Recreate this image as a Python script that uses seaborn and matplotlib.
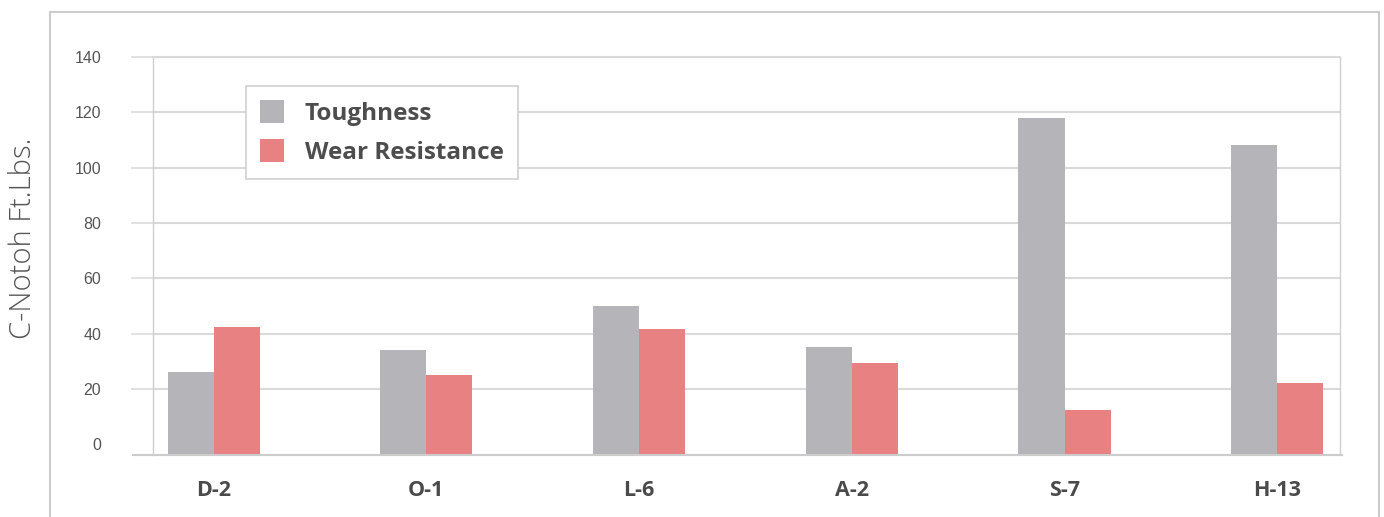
import matplotlib
matplotlib.use("Agg")
import matplotlib.pyplot as plt
import seaborn as sns
import pandas as pd
from matplotlib.lines import Line2D

# ---- data ----
steels = ["D-2", "O-1", "L-6", "A-2", "S-7", "H-13"]
toughness = [26, 34, 50, 35, 118, 108]
wear_resistance = [42.5, 25, 41.5, 29.5, 12.5, 22]
series_names = ["Toughness", "Wear Resistance"]
y_ticks = [0, 20, 40, 60, 80, 100, 120, 140]
y_label = "C-Notoh Ft.Lbs."

df = pd.DataFrame({
    "Steel": steels * 2,
    "Series": [series_names[0]] * len(steels) + [series_names[1]] * len(steels),
    "Value": toughness + wear_resistance,
})

sns.set_theme(style="white")
plt.rcParams["font.family"] = ["Open Sans", "DejaVu Sans"]

W, H = 1384, 517
fig = plt.figure(figsize=(W / 100, H / 100), dpi=100)
ax = fig.add_axes([153 / W, 62 / H, 1187 / W, 398 / H])

sns.barplot(
    data=df, x="Steel", y="Value", hue="Series",
    palette=["#b5b5b9", "#e88182"], width=0.433, saturation=1,
    linewidth=0, errorbar=None, ax=ax,
)

ymin = -3.94
ax.set_ylim(ymin, 140)
ax.set_xlim(-0.285, 5.295)

# bars reach down to the drawn baseline
for p in ax.patches:
    top = p.get_y() + p.get_height()
    p.set_y(ymin)
    p.set_height(top - ymin)

# y axis: gridlines + ticks that extend left of the axis
ax.set_yticks(y_ticks, labels=[str(t) for t in y_ticks],
              fontfamily="Liberation Sans", fontsize=11.5, color="#555555")
ax.grid(axis="y", color="#d9d9d9", linewidth=1.5)
ax.grid(axis="x", visible=False)
ax.set_axisbelow(True)
ax.tick_params(axis="y", left=True, length=15.8, width=1.1, color="#d9d9d9",
               pad=21.6, direction="out")
t0 = ax.yaxis.get_major_ticks()[0]
t0.gridline.set_visible(False)
t0.tick1line.set_visible(False)

# x axis labels
ax.tick_params(axis="x", length=0, pad=18)
ax.set_xticks(range(len(steels)), labels=steels, fontsize=15.5,
              fontweight="bold", color="#4a4a4a")
ax.set_xlabel("")

ax.set_ylabel(y_label, fontsize=21, fontweight="light", color="#555555",
              va="center", ha="center")
ax.yaxis.set_label_coords(-0.1095, 0.5435)

for side in ["left", "right"]:
    ax.spines[side].set_color("#cfcfcf")
    ax.spines[side].set_linewidth(1.0)
ax.spines["top"].set_color("#d9d9d9")
ax.spines["top"].set_linewidth(1.5)
ax.spines["bottom"].set_color("#cccccc")
ax.spines["bottom"].set_linewidth(1.5)
ax.spines["bottom"].set_bounds(-0.285 - 20 / 212.7, 5.295 + 2 / 212.7)

leg = ax.legend(
    loc="upper left", bbox_to_anchor=(0.078, 0.927), borderaxespad=0,
    frameon=True, fancybox=False, edgecolor="#d0d0d0", framealpha=1,
    prop={"family": "Open Sans", "weight": "bold", "size": 17.5},
    handlelength=1.0, handleheight=1.1, handletextpad=0.85,
    labelspacing=0.52, borderpad=0.58, title=None,
)
leg.get_frame().set_linewidth(1.2)
for t in leg.get_texts():
    t.set_color("#4d4d4d")

# outer frame (no bottom edge)
fx0, fx1, fy1 = 50 / W, 1379 / W, 1 - 12 / H
for xs, ys in [([fx0, fx0], [0, fy1]), ([fx0, fx1], [fy1, fy1]), ([fx1, fx1], [fy1, 0])]:
    fig.add_artist(Line2D(xs, ys, transform=fig.transFigure, color="#cccccc", linewidth=1.5))

fig.savefig("out.png", dpi=100)
